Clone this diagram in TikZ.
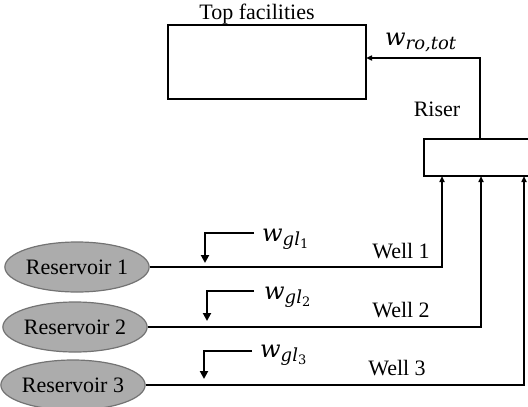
\documentclass[tikz,border=0pt]{standalone}
\usepackage{fontspec}
\setmainfont{Liberation Serif}
\newfontfamily\symfont{DejaVu Serif}
\usetikzlibrary{arrows.meta,calc,shapes.geometric}

% flow-rate symbol: italic w with italic subscript (and optional sub-subscript)
\newcommand{\flowsym}[2]{{\symfont\fontsize{24}{24}\selectfont\itshape w}\raisebox{-4pt}{\symfont\fontsize{18}{18}\selectfont\itshape #1\raisebox{-3pt}{\fontsize{13}{13}\selectfont\upshape #2}}}

\tikzset{
  box/.style={draw, line width=2pt, rectangle, inner sep=0pt},
  res/.style={ellipse, draw=gray!90!black, fill=gray!65, line width=1.2pt,
              minimum width=131pt, minimum height=50pt, inner sep=0pt,
              font=\fontsize{22}{22}\selectfont},
  pipe/.style={line width=1.6pt, -{Triangle[length=6pt,width=5pt]}},
  gaslift/.style={line width=2.6pt, -{Triangle[length=8pt,width=8pt]}},
  txt/.style={font=\fontsize{22}{22}\selectfont, inner sep=0pt},
}

\begin{document}
\begin{tikzpicture}[x=1pt, y=-1pt]
  \useasboundingbox (0,0) rectangle (528,407);
  \clip (0,0) rectangle (528,407);

  % top facilities and riser manifold
  \node[box, minimum width=198pt, minimum height=74pt] (top) at (267,62) {};
  \node[txt] (toplbl) at (257,14) {Top facilities};
  \node[box, minimum width=120pt, minimum height=37pt] (riser) at (484,157.5) {};
  \node[txt] (riserlbl) at (437,109) {Riser};

  % reservoirs
  \node[res] (res1) at (77,267) {Reservoir 1};
  \node[res] (res2) at (75,327) {Reservoir 2};
  \node[res] (res3) at (73,385) {Reservoir 3};

  % riser inlets and outlet
  \coordinate (in1) at (442,176);
  \coordinate (in2) at (481,176);
  \coordinate (in3) at (524,176);
  \coordinate (out) at (480,139);
  \coordinate (topin) at (366,58);

  % wells
  \draw[pipe] (res1.east) -| (in1);
  \draw[pipe] (res2.east) -| (in2);
  \draw[pipe] (res3.east) -| (in3);
  \draw[pipe] (out) |- (topin);

  \node[txt] (w1) at (401,251) {Well 1};
  \node[txt] (w2) at (401,310) {Well 2};
  \node[txt] (w3) at (397,368) {Well 3};

  % total riser outflow label
  \node[inner sep=0pt, anchor=base west] (wro) at (385,45) {\flowsym{ro,tot}{}};

  % gas-lift injection
  \coordinate (g1s) at (254,233); \coordinate (g1e) at (205,263);
  \coordinate (g2s) at (254,291); \coordinate (g2e) at (207,321);
  \coordinate (g3s) at (252,351); \coordinate (g3e) at (204,379);
  \draw[gaslift] (g1s) -| (g1e);
  \draw[gaslift] (g2s) -| (g2e);
  \draw[gaslift] (g3s) -| (g3e);
  \node[inner sep=0pt, anchor=base west] (gl1) at (262,241) {\flowsym{gl}{1}};
  \node[inner sep=0pt, anchor=base west] (gl2) at (264,299) {\flowsym{gl}{2}};
  \node[inner sep=0pt, anchor=base west] (gl3) at (260,357) {\flowsym{gl}{3}};
\end{tikzpicture}
\end{document}
